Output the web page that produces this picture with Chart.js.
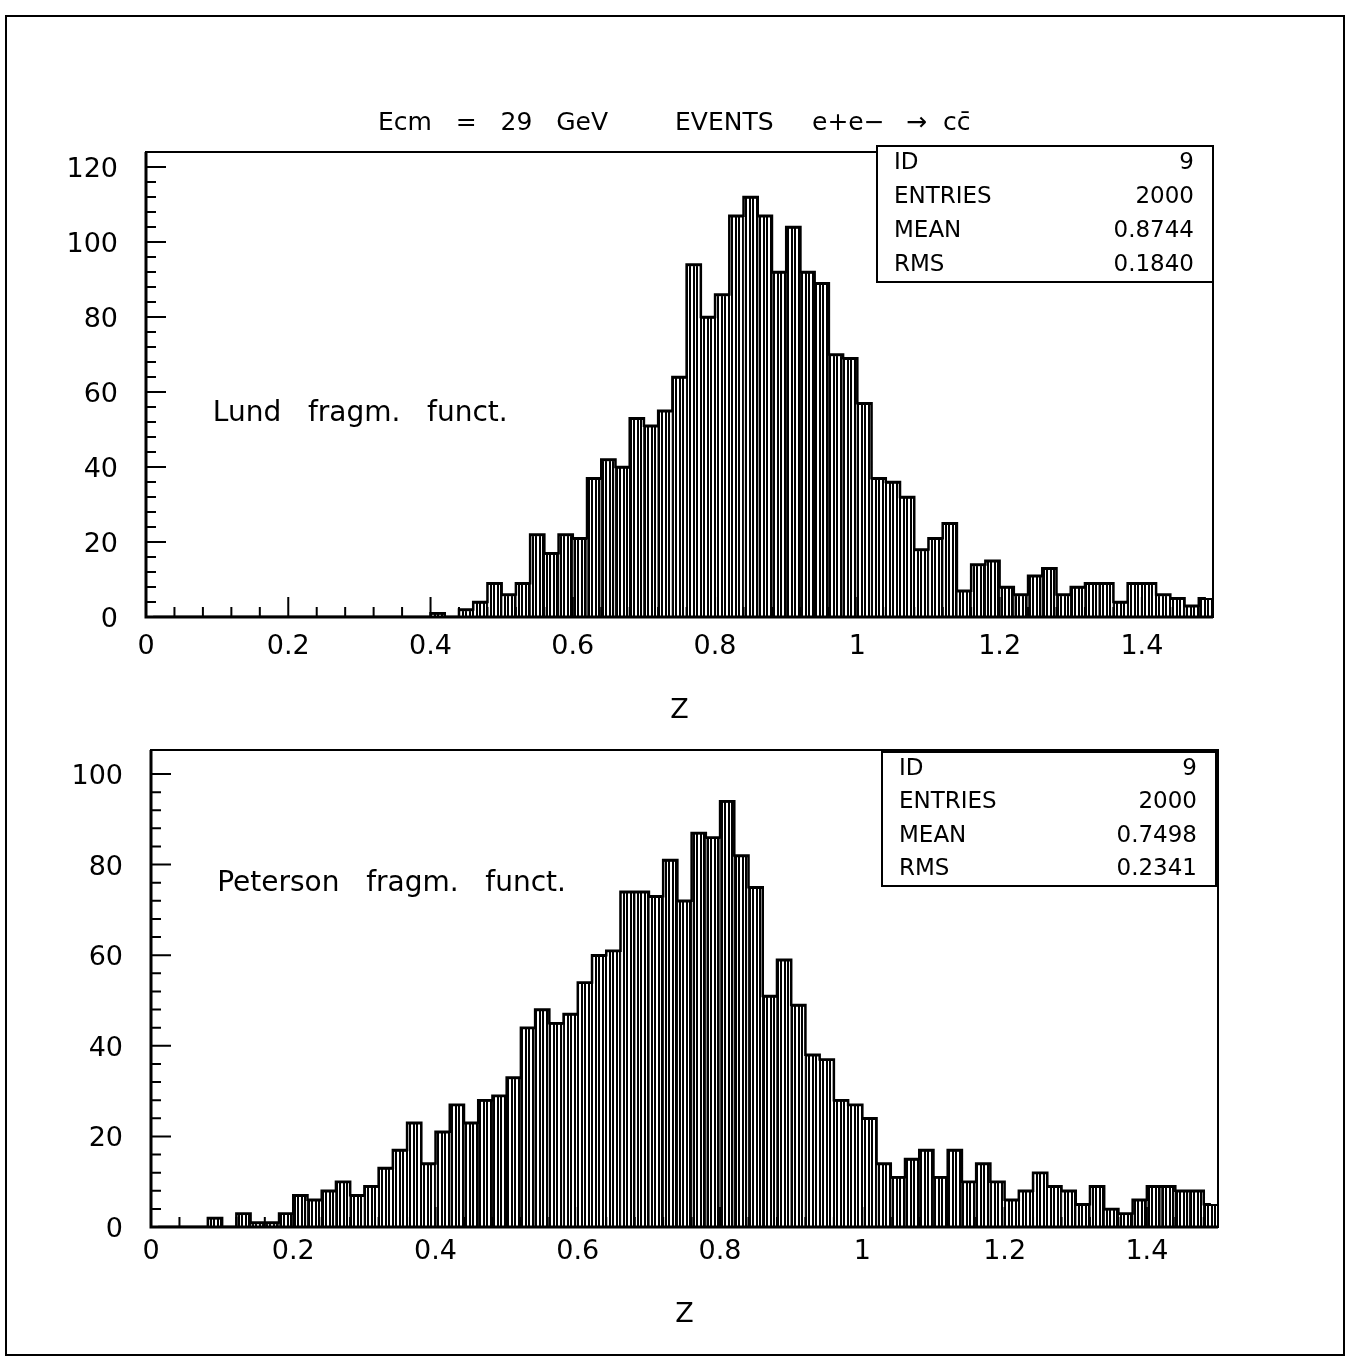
<!DOCTYPE html>
<html>
<head>
<meta charset="utf-8">
<script src="https://cdn.jsdelivr.net/npm/chart.js@4.4.1/dist/chart.umd.min.js"></script>
<style>
  html, body { margin: 0; padding: 0; background: #fff; }
  body { width: 1360px; height: 1357px; position: relative; overflow: hidden; }
  #frame { position: absolute; left: 5px; top: 15px; width: 1336px; height: 1337px; border: 2px solid #000; }
  #c1 { position: absolute; left: 0; top: 0; }
  #c2 { position: absolute; left: 0; top: 727px; }
</style>
</head>
<body>
<div id="frame"></div>
<canvas id="c1" width="1360" height="727"></canvas>
<canvas id="c2" width="1360" height="630"></canvas>
<script>
// ---------------- data ----------------
const X_MIN = 0;
const X_MAX = 1.5;
const BIN_WIDTH = 0.02;   // 75 bins between 0 and 1.5

// Lund fragmentation function, counts per bin (z = 0 ... 1.5)
const lundCounts = [
  0, 0, 0, 0, 0, 0, 0, 0, 0, 0, 0, 0, 0, 0, 0, 0, 0, 0, 0, 0,
  1, 0, 2, 4, 9, 6, 9, 22, 17, 22, 21, 37, 42, 40, 53, 51, 55, 64, 94, 80,
  86, 107, 112, 107, 92, 104, 92, 89, 70, 69, 57, 37, 36, 32, 18, 21, 25, 7, 14, 15,
  8, 6, 11, 13, 6, 8, 9, 9, 4, 9, 9, 6, 5, 3, 5
];

// Peterson fragmentation function, counts per bin (z = 0 ... 1.5)
const petersonCounts = [
  0, 0, 0, 0, 2, 0, 3, 1, 1, 3, 7, 6, 8, 10, 7, 9, 13, 17, 23, 14,
  21, 27, 23, 28, 29, 33, 44, 48, 45, 47, 54, 60, 61, 74, 74, 73, 81, 72, 87, 86,
  94, 82, 75, 51, 59, 49, 38, 37, 28, 27, 24, 14, 11, 15, 17, 11, 17, 10, 14, 10,
  6, 8, 12, 9, 8, 5, 9, 4, 3, 6, 9, 9, 8, 8, 5
];

const xTickValues = [0, 0.2, 0.4, 0.6, 0.8, 1, 1.2, 1.4];
const xTickLabels = ['0', '0.2', '0.4', '0.6', '0.8', '1', '1.2', '1.4'];
const yTickValuesLund = [0, 20, 40, 60, 80, 100, 120];
const yTickLabelsLund = ['0', '20', '40', '60', '80', '100', '120'];
const yTickValuesPeterson = [0, 20, 40, 60, 80, 100];
const yTickLabelsPeterson = ['0', '20', '40', '60', '80', '100'];

const statNames = ['ID', 'ENTRIES', 'MEAN', 'RMS'];
const lundStatValues = ['9', '2000', '0.8744', '0.1840'];
const petersonStatValues = ['9', '2000', '0.7498', '0.2341'];

const titleParts = ['Ecm   =   29   GeV', 'EVENTS', 'e+e\u2212', '\u2192', 'cc\u0304'];
const xAxisTitle = 'Z';
const lundLabel = 'Lund   fragm.   funct.';
const petersonLabel = 'Peterson   fragm.   funct.';

// ---------------- helpers ----------------
const FONT = "'DejaVu Sans', 'Liberation Sans', sans-serif";

function hatchPattern(ctx) {
  const p = document.createElement('canvas');
  p.width = 7; p.height = 8;
  const g = p.getContext('2d');
  g.fillStyle = '#fff'; g.fillRect(0, 0, 7, 8);
  g.fillStyle = '#000'; g.fillRect(0, 0, 2, 8); g.fillRect(3, 0, 2, 8);
  return ctx.createPattern(p, 'repeat');
}

function rangeStep(from, to, step) {
  const out = [];
  for (let v = from; v <= to + 1e-9; v += step) out.push(Math.round(v * 1000) / 1000);
  return out;
}

const decorPlugin = {
  id: 'hbookDecor',
  afterDatasetsDraw(chart, args, o) {
    const { ctx, chartArea: a, scales: { x, y } } = chart;
    ctx.save();
    ctx.strokeStyle = '#000';
    ctx.fillStyle = '#000';
    // plot frame
    ctx.lineWidth = 2;
    ctx.strokeRect(a.left, a.top, a.right - a.left, a.bottom - a.top);
    ctx.lineWidth = 3;
    ctx.beginPath();
    ctx.moveTo(a.left, a.top); ctx.lineTo(a.left, a.bottom); ctx.lineTo(a.right, a.bottom);
    ctx.stroke();
    // inward ticks
    ctx.lineWidth = 2;
    ctx.beginPath();
    o.xMinor.forEach(v => {
      const px = x.getPixelForValue(v);
      const major = xTickValues.some(m => Math.abs(m - v) < 1e-6);
      ctx.moveTo(px, a.bottom); ctx.lineTo(px, a.bottom - (major ? 20 : 10));
    });
    o.yMinor.forEach(v => {
      const py = y.getPixelForValue(v);
      const major = o.yMajor.some(m => Math.abs(m - v) < 1e-6);
      ctx.moveTo(a.left, py); ctx.lineTo(a.left + (major ? 20 : 10), py);
    });
    ctx.stroke();
    // title
    if (o.title) {
      ctx.font = '25px ' + FONT;
      ctx.textBaseline = 'middle';
      ctx.textAlign = 'left';
      o.title.parts.forEach((t, i) => ctx.fillText(t, o.title.x[i], o.title.y));
    }
    // label
    ctx.font = '28px ' + FONT;
    ctx.textBaseline = 'middle';
    ctx.textAlign = 'left';
    ctx.fillText(o.label.text, x.getPixelForValue(o.label.x), y.getPixelForValue(o.label.y));
    // stat box
    const b = o.box;
    const bl = a.right + b.dRight - b.w, bt = a.top + b.dTop;
    ctx.fillStyle = '#fff';
    ctx.fillRect(bl, bt, b.w, b.h);
    ctx.fillStyle = '#000';
    ctx.lineWidth = 2;
    ctx.strokeRect(bl, bt, b.w, b.h);
    ctx.font = '23px ' + FONT;
    ctx.textBaseline = 'middle';
    const rowH = b.h / statNames.length;
    statNames.forEach((n, i) => {
      const cy = bt + rowH * (i + 0.5);
      ctx.textAlign = 'left';
      ctx.fillText(n, bl + 17, cy);
      ctx.textAlign = 'right';
      ctx.fillText(o.stats[i], bl + b.w - 19, cy);
    });
    ctx.restore();
  }
};

function buildChart(canvasId, counts, cfg) {
  const canvas = document.getElementById(canvasId);
  const ctx = canvas.getContext('2d');
  const pts = counts.map((c, i) => ({ x: X_MIN + (i + 0.5) * BIN_WIDTH, y: c }));
  return new Chart(ctx, {
    type: 'bar',
    data: {
      datasets: [
        {
          type: 'line', data: pts, stepped: 'middle', borderColor: '#000', borderWidth: 2.5,
          pointRadius: 0, fill: false, order: 0
        },
        {
          type: 'bar', data: pts, backgroundColor: hatchPattern(ctx), borderColor: '#000',
          borderWidth: { top: 2, left: 1, right: 1, bottom: 0 }, borderSkipped: false,
          barPercentage: 1, categoryPercentage: 1, order: 1
        }
      ]
    },
    options: {
      responsive: false, animation: false, devicePixelRatio: 1,
      layout: { padding: cfg.padding },
      plugins: {
        legend: { display: false }, tooltip: { enabled: false }, title: { display: false },
        hbookDecor: {
          xMinor: rangeStep(0, 1.48, 0.04),
          yMinor: rangeStep(0, cfg.yTicks[cfg.yTicks.length - 1], 4),
          yMajor: cfg.yTicks,
          title: cfg.title, label: cfg.label, box: cfg.box, stats: cfg.stats
        }
      },
      scales: {
        x: {
          type: 'linear', min: X_MIN, max: X_MAX, offset: false,
          grid: { display: false, drawTicks: false }, border: { display: false },
          afterBuildTicks: s => { s.ticks = xTickValues.map(v => ({ value: v })); },
          afterFit: s => { s.height = cfg.xAxisHeight; s.paddingLeft = 0; s.paddingRight = 0; },
          ticks: {
            autoSkip: false, maxRotation: 0, padding: cfg.xTickPad, color: '#000',
            font: { family: FONT, size: 27 }, callback: (v, i) => xTickLabels[i]
          },
          title: {
            display: true, text: xAxisTitle, color: '#000', font: { family: FONT, size: 27 },
            padding: { top: 0, bottom: cfg.zPad }
          }
        },
        y: {
          type: 'linear', min: 0, max: cfg.yMax,
          grid: { display: false, drawTicks: false }, border: { display: false },
          afterBuildTicks: s => { s.ticks = cfg.yTicks.map(v => ({ value: v })); },
          afterFit: s => { s.width = cfg.yAxisWidth; s.paddingTop = 0; s.paddingBottom = 0; },
          ticks: {
            autoSkip: false, padding: 28, labelOffset: 3, color: '#000',
            font: { family: FONT, size: 27 }, callback: (v, i) => cfg.yLabels[i]
          }
        }
      }
    },
    plugins: [decorPlugin]
  });
}

buildChart('c1', lundCounts, {
  padding: { top: 152, left: 0, right: 147, bottom: 0 },
  yMax: 124, yTicks: yTickValuesLund, yLabels: yTickLabelsLund,
  yAxisWidth: 146, xAxisHeight: 110, xTickPad: 14, zPad: 0,
  title: { parts: titleParts, x: [378, 675, 812, 906, 943], y: 123 },
  label: { text: lundLabel, x: 0.094, y: 54.2 },
  box: { w: 336, h: 136, dRight: 0, dTop: -6 },
  stats: lundStatValues
});

buildChart('c2', petersonCounts, {
  padding: { top: 23, left: 0, right: 142, bottom: 0 },
  yMax: 105.3, yTicks: yTickValuesPeterson, yLabels: yTickLabelsPeterson,
  yAxisWidth: 151, xAxisHeight: 130, xTickPad: 9, zPad: 26,
  title: null,
  label: { text: petersonLabel, x: 0.093, y: 75.7 },
  box: { w: 334, h: 134, dRight: -2, dTop: 2 },
  stats: petersonStatValues
});
</script>
</body>
</html>
